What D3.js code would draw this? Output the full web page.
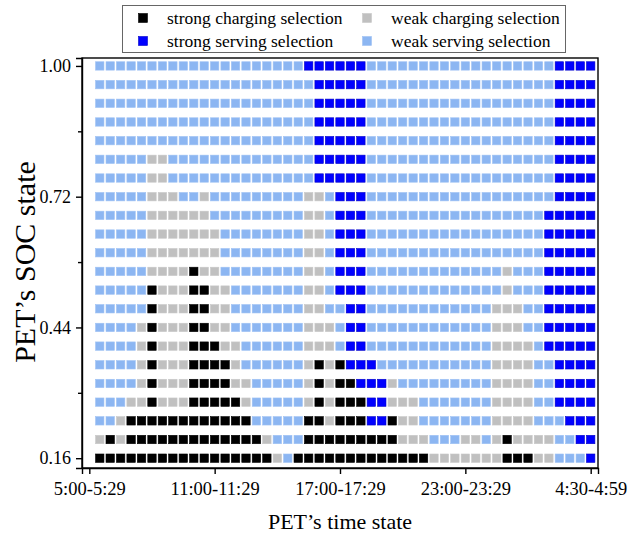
<!DOCTYPE html>
<html lang="en">
<head>
<meta charset="UTF-8">
<script src="https://d3js.org/d3.v7.min.js"></script>
<style>
  body { margin: 0; background: #fff; }
  svg { font-family: "Liberation Serif", "Times New Roman", serif; }
</style>
</head>
<body>

<svg width="636" height="534"></svg>

<script>
    // SOC levels (rows, bottom to top) and the selection in each of the 48 half-hour time states
    // K = strong charging, G = weak charging, B = strong serving, L = weak serving
    var socLevels = [0.16, 0.20, 0.24, 0.28, 0.32, 0.36, 0.40, 0.44, 0.48, 0.52, 0.56,
                     0.60, 0.64, 0.68, 0.72, 0.76, 0.80, 0.84, 0.88, 0.92, 0.96, 1.00];

    var selection = [
        "KKKKKKKKKKKK KKKKKGLKKKKK KKKKKKKKGGGG GGGKKKGGLLLB", // 0.16
        "GKGKKKKKKKKK KKKKGLLLKKKK KKKKKGGGLLLG GLGKGGGGLLBB", // 0.20
        "LLGKKKKKKKKK KKKLLLLLKKGK KKBBKGGLLLLL LLGGGGLLLBBB", // 0.24
        "LLLGGKGGGKKK KKGLLLLLGKGK KKBBGGGLLLLL LLGGGGLLBBBB", // 0.28
        "LLLLGKGGGKKK KGGLLLLLGKGK KBBBGLLLLLLL LLGGGGLLBBBB", // 0.32
        "LLLLGKGGGKKK KGLLLLLLGKGK BBBLLLLLLLLL LLGGGGLLBBBB", // 0.36
        "LLLLGKGGGKKK GGLLLLLLGGGL BBLLLLLLLLLL LLGGGGLBBBBB", // 0.40
        "LLLLGKGGGKKG GLLLLLLLGGGL BBLLLLLLLLLL LLGGGLLBBBBB", // 0.44
        "LLLLLKGGGKKG GLLLLLLLGGLL BBLLLLLLLLLL LLGGGLLBBBBB", // 0.48
        "LLLLLKGGGKKG GLLLLLLLGGLB BBLLLLLLLLLL LLLGLLLBBBBB", // 0.52
        "LLLLLGGGGKGG LLLLLLLLGGLB BBLLLLLLLLLL LLLGLLLBBBBB", // 0.56
        "LLLLLGGGGGGG LLLLLLLLGGLB BBLLLLLLLLLL LLLLLLLBBBBB", // 0.60
        "LLLLLGGGGGGG LLLLLLLLGGLB BBLLLLLLLLLL LLLLLLLBBBBB", // 0.64
        "LLLLLGGGGGGL LLLLLLLLGGLB BBLLLLLLLLLL LLLLLLLBBBBB", // 0.68
        "LLLLLGGGLLGL LLLLLLLLGGLB BBLLLLLLLLLL LLLLLLLLBBBB", // 0.72
        "LLLLLGGLLLLL LLLLLLLLLBBB BBLLLLLLLLLL LLLLLLLLBBBB", // 0.76
        "LLLLLGGLLLLL LLLLLLLLLBBB BBLLLLLLLLLL LLLLLLLLBBBB", // 0.80
        "LLLLLLLLLLLL LLLLLLLLLBBB BBLLLLLLLLLL LLLLLLLLBBBB", // 0.84
        "LLLLLLLLLLLL LLLLLLLLLBBB BBLLLLLLLLLL LLLLLLLLBBBB", // 0.88
        "LLLLLLLLLLLL LLLLLLLLLBBB BBLLLLLLLLLL LLLLLLLLBBBB", // 0.92
        "LLLLLLLLLLLL LLLLLLLLLBBB BBLLLLLLLLLL LLLLLLLLBBBB", // 0.96
        "LLLLLLLLLLLL LLLLLLLLBBBB BBLLLLLLLLLL LLLLLLLLBBBB"  // 1.00
    ];

    var codes = ["K", "G", "B", "L"];
    var categories = ["strong charging selection", "weak charging selection",
                      "strong serving selection", "weak serving selection"];

    var xTickSlots = [0, 12, 24, 36, 48];
    var xTickLabels = ["5:00-5:29", "11:00-11:29", "17:00-17:29", "23:00-23:29", "4:30-4:59"];
    var yTicks = [0.16, 0.44, 0.72, 1.00];
    var yMinorTicks = [0.30, 0.58, 0.86];

    var fills = {K: "#000000", G: "#c0c0c0", B: "#0000ff", L: "#8cb6f2"};
    var strokes = {K: "#000000", G: "#c8c8c8", B: "#0000c8", L: "#9fc2f4"};

    var svg = d3.select("svg"),
        plot = {left: 82, right: 598, top: 58, bottom: 468},
        cell = 8.4;

    var x = d3.scaleLinear().domain([-0.7, 48.7]).range([plot.left, plot.right]);
    var y = d3.scaleLinear().domain([0.139, 1.017]).range([plot.bottom, plot.top]);

    // flatten into cells
    var cells = [];
    selection.forEach(function(row, i) {
        row.replace(/ /g, "").split("").forEach(function(c, j) {
            cells.push({soc: socLevels[i], slot: j + 1, code: c});
        });
    });

    svg.append("g").selectAll("rect")
        .data(cells)
        .enter()
        .append("rect")
        .attr("x", function(d) { return x(d.slot) - cell / 2; })
        .attr("y", function(d) { return y(d.soc) - cell / 2; })
        .attr("width", cell)
        .attr("height", cell)
        .attr("fill", function(d) { return fills[d.code]; })
        .attr("stroke", function(d) { return strokes[d.code]; })
        .attr("stroke-width", 0.6);

    // frame
    svg.append("rect")
        .attr("x", plot.left).attr("y", plot.top)
        .attr("width", plot.right - plot.left).attr("height", plot.bottom - plot.top)
        .attr("fill", "none").attr("stroke", "#000").attr("stroke-width", 1.4);

    // axes
    var xAxis = svg.append("g")
        .attr("transform", "translate(0," + plot.bottom + ")")
        .call(d3.axisBottom(x).tickValues(xTickSlots).tickSize(6).tickPadding(8)
            .tickFormat(function(d, i) { return xTickLabels[i]; }));

    var yAxis = svg.append("g")
        .attr("transform", "translate(" + plot.left + ",0)")
        .call(d3.axisLeft(y).tickValues(yTicks).tickSize(6).tickPadding(5)
            .tickFormat(d3.format(".2f")));

    svg.append("g")
        .attr("transform", "translate(" + plot.left + ",0)")
        .call(d3.axisLeft(y).tickValues(yMinorTicks).tickSize(4).tickFormat(""))
        .select(".domain").remove();

    [xAxis, yAxis].forEach(function(a, k) {
        a.select(".domain").attr("stroke-width", 1.4);
        a.selectAll("text")
            .attr("font-family", "Liberation Serif, Times New Roman, serif")
            .attr("font-size", k === 0 ? 18.5 : 18)
            .attr("fill", "#000");
    });
    svg.selectAll(".tick line").attr("stroke-width", 1.4);

    // axis titles
    svg.append("text")
        .attr("x", (plot.left + plot.right) / 2)
        .attr("y", 529)
        .attr("text-anchor", "middle")
        .attr("font-size", 22)
        .text("PET\u2019s time state");

    svg.append("text")
        .attr("transform", "translate(35,262) rotate(-90)")
        .attr("text-anchor", "middle")
        .attr("font-size", 30)
        .text("PET\u2019s SOC state");

    // legend
    var legend = svg.append("g");
    legend.append("rect")
        .attr("x", 122.5).attr("y", 5.5)
        .attr("width", 443).attr("height", 47)
        .attr("fill", "#fff").attr("stroke", "#666").attr("stroke-width", 1);

    var legendItems = legend.selectAll(".item")
        .data(codes)
        .enter()
        .append("g")
        .attr("class", "item")
        .attr("transform", function(d, i) {
            return "translate(" + (i % 2 === 0 ? 143 : 367) + "," + (i < 2 ? 18 : 41) + ")";
        });

    legendItems.append("rect")
        .attr("x", -4.5).attr("y", -4.5)
        .attr("width", 9).attr("height", 9)
        .attr("fill", function(d) { return fills[d]; })
        .attr("stroke", function(d) { return strokes[d]; })
        .attr("stroke-width", 0.6);

    legendItems.append("text")
        .attr("x", 24)
        .attr("y", 6)
        .attr("font-size", 17.5)
        .text(function(d, i) { return categories[i]; });
</script>

</body>
</html>
